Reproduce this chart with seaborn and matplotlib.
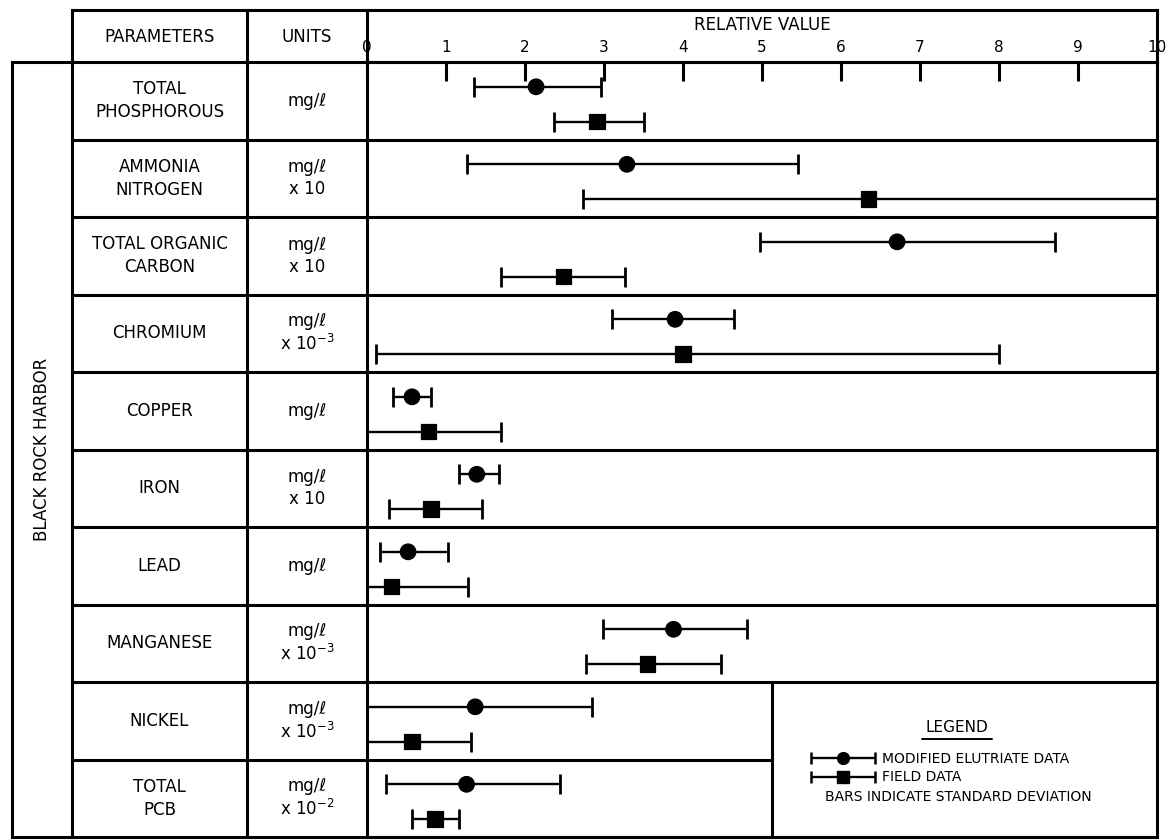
import numpy as np
import pandas as pd
import matplotlib.pyplot as plt
import seaborn as sns
from matplotlib.lines import Line2D
from matplotlib.container import ErrorbarContainer
from matplotlib.legend_handler import HandlerErrorbar, HandlerTuple

# values (relative value scale 0-10)
parameters = ["TOTAL\nPHOSPHOROUS", "AMMONIA\nNITROGEN", "TOTAL ORGANIC\nCARBON", "CHROMIUM",
              "COPPER", "IRON", "LEAD", "MANGANESE", "NICKEL", "TOTAL\nPCB"]
units = ["mg/ℓ", "mg/ℓ\nx 10", "mg/ℓ\nx 10", "mg/ℓ\nx 10$^{-3}$", "mg/ℓ", "mg/ℓ\nx 10",
         "mg/ℓ", "mg/ℓ\nx 10$^{-3}$", "mg/ℓ\nx 10$^{-3}$", "mg/ℓ\nx 10$^{-2}$"]

elutriate_mean = [2.14, 3.29, 6.71, 3.90, 0.57, 1.39, 0.52, 3.88, 1.37, 1.26]
elutriate_low = [1.36, 1.26, 4.97, 3.10, 0.33, 1.16, 0.16, 2.99, 0.00, 0.24]
elutriate_high = [2.96, 5.46, 8.71, 4.65, 0.81, 1.67, 1.02, 4.81, 2.85, 2.44]

field_mean = [2.91, 6.35, 2.49, 4.00, 0.78, 0.81, 0.31, 3.55, 0.57, 0.86]
field_low = [2.37, 2.73, 1.70, 0.11, 0.00, 0.28, 0.00, 2.77, 0.00, 0.57]
field_high = [3.51, 10.0, 3.27, 8.00, 1.69, 1.45, 1.28, 4.48, 1.32, 1.17]

series_names = ["MODIFIED ELUTRIATE DATA", "FIELD DATA"]
row_offsets = {"MODIFIED ELUTRIATE DATA": 0.32, "FIELD DATA": 0.77}

sns.set_theme(style="white")
plt.rcParams["font.family"] = ["DejaVu Sans"]
plt.rcParams["text.color"] = "black"
plt.rcParams["xtick.color"] = "black"

W, H = 1169, 840


def fx(px):
    return px / W


def fy(py):
    return 1 - py / H


fig = plt.figure(figsize=(W / 100, H / 100), dpi=100)

# pixel layout of the table
x_frame, x_param, x_units, x_plot, x_right = 12, 72, 247, 367, 1157
y_head, y_top, y_bot = 10, 62, 837
x_legend = 772
lw = 2.2
fs = 12

ax = fig.add_axes([fx(x_plot), fy(y_bot), fx(x_right) - fx(x_plot), fy(y_top) - fy(y_bot)])

rows = []
for i, p in enumerate(parameters):
    rows.append({"row": i, "series": series_names[0], "value": elutriate_mean[i],
                 "low": elutriate_low[i], "high": elutriate_high[i]})
    rows.append({"row": i, "series": series_names[1], "value": field_mean[i],
                 "low": field_low[i], "high": field_high[i]})
df = pd.DataFrame(rows)
df["ypos"] = df["row"] + df["series"].map(row_offsets)

for name in series_names:
    d = df[df["series"] == name]
    ax.errorbar(d["value"], d["ypos"],
                xerr=[d["value"] - d["low"], d["high"] - d["value"]],
                fmt="none", ecolor="black", elinewidth=1.7, capsize=7, capthick=2)

sns.scatterplot(data=df, x="value", y="ypos", style="series",
                markers={series_names[0]: "o", series_names[1]: "s"},
                color="black", edgecolor="black", s=125, legend=False, ax=ax, zorder=5)

ax.set_xlim(0, 10)
ax.set_ylim(10, 0)
ax.set_xticks(range(0, 11))
ax.set_yticks([])
ax.set_xlabel("")
ax.set_ylabel("")
ax.xaxis.tick_top()
ax.tick_params(axis="x", direction="in", length=14, width=2.2, pad=5,
               labelsize=11, colors="black")
for s in ax.spines.values():
    s.set_color("black")
    s.set_linewidth(lw)
ax.annotate("RELATIVE VALUE", xy=(0.5, 1), xycoords="axes fraction",
            xytext=(0, 27), textcoords="offset points", ha="center", va="center",
            fontsize=fs)


def afrac(px):
    return (px - x_plot) / (x_right - x_plot)


# row separators, tied to data rows
for i in range(1, 10):
    xmax = afrac(x_legend) if i == 9 else 1
    ax.axhline(i, xmin=afrac(x_param), xmax=xmax, color="black", lw=lw, clip_on=False)
ax.axhline(10, xmin=afrac(x_frame), xmax=1, color="black", lw=lw, clip_on=False)
ax.axhline(0, xmin=afrac(x_frame), xmax=1, color="black", lw=lw, clip_on=False)
ax.plot([afrac(x_legend)] * 2, [0, 0.2], transform=ax.transAxes, color="black", lw=lw)

# row labels
for i in range(len(parameters)):
    ax.text(afrac((x_param + x_units) / 2), i + 0.5, parameters[i],
            transform=ax.get_yaxis_transform(), ha="center", va="center",
            fontsize=fs, linespacing=1.35)
    ax.text(afrac((x_units + x_plot) / 2), i + 0.5, units[i],
            transform=ax.get_yaxis_transform(), ha="center", va="center",
            fontsize=fs, linespacing=1.25)


def line(x0, y0, x1, y1):
    fig.add_artist(Line2D([fx(x0), fx(x1)], [fy(y0), fy(y1)], transform=fig.transFigure,
                          color="black", lw=lw, solid_capstyle="projecting"))


# header and outer frame
line(x_param, y_head, x_right, y_head)
for xv in [x_param, x_units, x_plot, x_right]:
    line(xv, y_head, xv, y_top)
for xv in [x_frame, x_param, x_units]:
    line(xv, y_top, xv, y_bot)

fig.text(fx((x_param + x_units) / 2), fy(37), "PARAMETERS", ha="center", va="center", fontsize=fs)
fig.text(fx((x_units + x_plot) / 2), fy(37), "UNITS", ha="center", va="center", fontsize=fs)
fig.text(fx((x_frame + x_param) / 2), fy((y_top + y_bot) / 2), "BLACK ROCK HARBOR",
         rotation=90, ha="center", va="center", fontsize=fs)

# legend box
fig.text(fx(957), fy(727), "LEGEND", ha="center", va="center", fontsize=11)
fig.add_artist(Line2D([fx(922), fx(992)], [fy(739), fy(739)], transform=fig.transFigure,
                      color="black", lw=1.4))
bar_proxies = [ax.errorbar([np.nan], [np.nan], xerr=[[np.nan], [np.nan]], fmt="none",
                           ecolor="black", elinewidth=1.7, capsize=4, capthick=1.8)
               for _ in series_names]
marker_proxies = [Line2D([], [], marker="o", ls="none", color="black", ms=8.5),
                  Line2D([], [], marker="s", ls="none", color="black", ms=8)]
ax.legend(handles=[(bar_proxies[0], marker_proxies[0]),
                   (bar_proxies[1], marker_proxies[1])],
          labels=series_names,
          handler_map={ErrorbarContainer: HandlerErrorbar(xerr_size=2.3),
                       tuple: HandlerTuple(ndivide=1)},
          loc="center left", bbox_to_anchor=(fx(810), fy(768)),
          bbox_transform=fig.transFigure, frameon=False, fontsize=10,
          handlelength=4.7, handletextpad=0.5, labelspacing=0.35,
          borderpad=0, borderaxespad=0)
fig.text(fx(958), fy(797), "BARS INDICATE STANDARD DEVIATION", ha="center", va="center",
         fontsize=10)

fig.savefig("out.png", dpi=100, facecolor="white")
